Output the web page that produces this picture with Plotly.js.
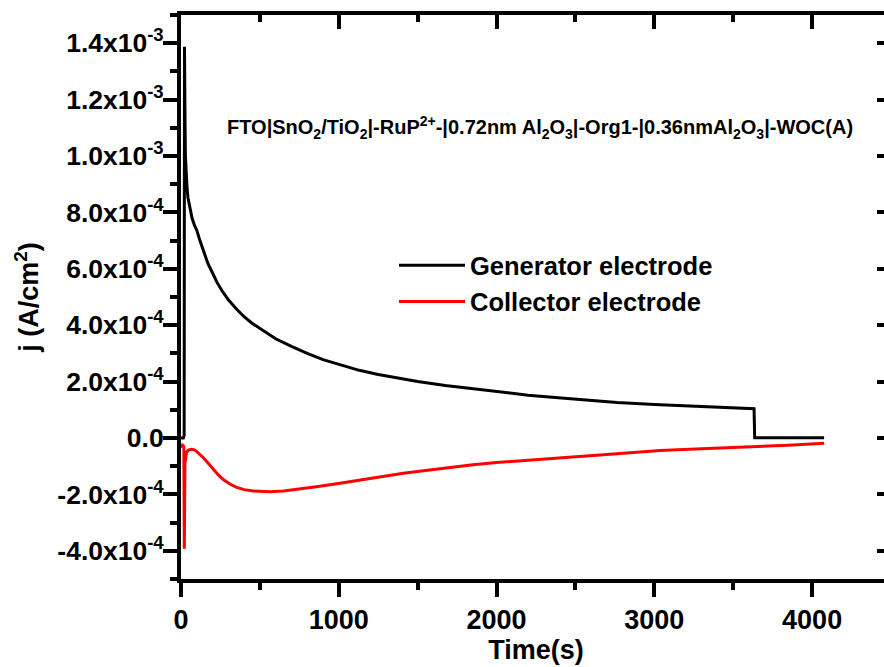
<!DOCTYPE html>
<html>
<head>
<meta charset="utf-8">
<script src="https://cdn.plot.ly/plotly-3.0.1.min.js"></script>
<style>
html, body { margin: 0; padding: 0; overflow: hidden; background: #fff; }
#chart { width: 900px; height: 667px; }
</style>
</head>
<body>
<div id="chart"></div>
<script>
// Generator electrode (black) — time in s, current density in A/cm^2
const genTime = [0, 15, 20, 22, 24, 26, 28, 32, 38, 44, 55, 70, 85, 101, 120, 140, 171, 200, 230, 260, 300, 350, 400, 450, 520, 600, 700, 800, 900, 1008, 1130, 1250, 1375, 1500, 1675, 1851, 2030, 2200, 2430, 2656, 2764, 3000, 3300, 3632, 3636, 4076];
const genJ = [0, 0, 0.1e-4, 13.87e-4, 12.5e-4, 11.0e-4, 10.0e-4, 9.4e-4, 8.9e-4, 8.53e-4, 8.15e-4, 7.8e-4, 7.55e-4, 7.35e-4, 7.0e-4, 6.7e-4, 6.18e-4, 5.85e-4, 5.5e-4, 5.22e-4, 4.9e-4, 4.58e-4, 4.3e-4, 4.07e-4, 3.8e-4, 3.52e-4, 3.25e-4, 3.0e-4, 2.78e-4, 2.59e-4, 2.4e-4, 2.25e-4, 2.12e-4, 2.0e-4, 1.86e-4, 1.74e-4, 1.62e-4, 1.52e-4, 1.41e-4, 1.31e-4, 1.26e-4, 1.19e-4, 1.11e-4, 1.04e-4, 0.01e-4, 0.01e-4];

// Collector electrode (red)
const colTime = [0, 4, 10, 18, 21, 25, 35, 50, 68, 85, 100, 120, 142, 170, 205, 235, 268, 310, 353, 400, 458, 510, 564, 650, 775, 880, 987, 1100, 1198, 1300, 1409, 1550, 1684, 1850, 2000, 2150, 2300, 2480, 2656, 2850, 3037, 3300, 3632, 3850, 4076];
const colJ = [-0.2e-4, -0.28e-4, -0.25e-4, -0.3e-4, -3.93e-4, -0.9e-4, -0.5e-4, -0.42e-4, -0.40e-4, -0.42e-4, -0.48e-4, -0.58e-4, -0.70e-4, -0.88e-4, -1.11e-4, -1.30e-4, -1.47e-4, -1.63e-4, -1.75e-4, -1.83e-4, -1.88e-4, -1.905e-4, -1.91e-4, -1.88e-4, -1.80e-4, -1.71e-4, -1.62e-4, -1.52e-4, -1.43e-4, -1.34e-4, -1.25e-4, -1.15e-4, -1.05e-4, -0.95e-4, -0.87e-4, -0.80e-4, -0.74e-4, -0.67e-4, -0.60e-4, -0.52e-4, -0.44e-4, -0.38e-4, -0.32e-4, -0.26e-4, -0.19e-4];

const seriesNames = ["Generator electrode", "Collector electrode"];

// Y tick labels
const yTickVals = [1.4e-3, 1.2e-3, 1.0e-3, 8.0e-4, 6.0e-4, 4.0e-4, 2.0e-4, 0, -2.0e-4, -4.0e-4];
const yTickText = ["1.4x10<sup>-3</sup>", "1.2x10<sup>-3</sup>", "1.0x10<sup>-3</sup>", "8.0x10<sup>-4</sup>", "6.0x10<sup>-4</sup>", "4.0x10<sup>-4</sup>", "2.0x10<sup>-4</sup>", "0.0", "-2.0x10<sup>-4</sup>", "-4.0x10<sup>-4</sup>"];

const annotationText = "FTO|SnO<sub>2</sub>/TiO<sub>2</sub>|-RuP<sup>2+</sup>-|0.72nm Al<sub>2</sub>O<sub>3</sub>|-Org1-|0.36nmAl<sub>2</sub>O<sub>3</sub>|-WOC(A)";

const FONT = "Liberation Sans, Arial, Helvetica, sans-serif";
const xRange = [0, 4500];
const yRange = [-5e-4, 1.5e-3];

const traces = [
  { x: genTime, y: genJ, type: "scatter", mode: "lines", name: seriesNames[0],
    line: { color: "#000000", width: 3, shape: "linear" } },
  { x: colTime, y: colJ, type: "scatter", mode: "lines", name: seriesNames[1],
    line: { color: "#ff0000", width: 3, shape: "linear" } },
  { x: [], y: [], xaxis: "x2", yaxis: "y2", type: "scatter", mode: "lines", showlegend: false, hoverinfo: "skip" }
];

const layout = {
  width: 900, height: 667,
  margin: { l: 181, r: 9, t: 15, b: 88 },
  paper_bgcolor: "#ffffff", plot_bgcolor: "#ffffff",
  font: { family: FONT, color: "#000000", weight: "bold" },
  showlegend: true,
  legend: {
    x: 0.300, y: 0.597, xanchor: "left", yanchor: "top",
    bgcolor: "rgba(0,0,0,0)", borderwidth: 0,
    font: { family: FONT, size: 25.5, weight: "bold", color: "#000" },
    itemwidth: 66, tracegroupgap: 0
  },
  xaxis: {
    range: xRange, showgrid: false, zeroline: false,
    showline: true, linecolor: "#000", linewidth: 4, mirror: true,
    ticks: "outside", ticklen: 14, tickwidth: 4, tickcolor: "#000",
    tick0: 0, dtick: 1000,
    minor: { ticks: "outside", ticklen: 7, tickwidth: 4, tickcolor: "#000", tick0: 0, dtick: 500 },
    tickfont: { family: FONT, size: 27, weight: "bold" },
    title: { text: "Time(s)", font: { family: FONT, size: 27, weight: "bold" }, standoff: 4 }
  },
  yaxis: {
    range: yRange, showgrid: false, zeroline: false,
    showline: true, linecolor: "#000", linewidth: 4, mirror: true,
    ticks: "outside", ticklen: 14, tickwidth: 4, tickcolor: "#000",
    tickmode: "array", tickvals: yTickVals, ticktext: yTickText,
    ticklabelstandoff: -6,
    minor: { ticks: "outside", ticklen: 7, tickwidth: 4, tickcolor: "#000", tickmode: "linear", tick0: 0, dtick: 1e-4 },
    tickfont: { family: FONT, size: 26.5, weight: "bold" },
    title: { text: "j (A/cm<sup>2</sup>)", font: { family: FONT, size: 27, weight: "bold" }, standoff: 12 }
  },
  xaxis2: {
    overlaying: "x", side: "top", anchor: "y2", range: xRange,
    showgrid: false, zeroline: false, showline: false, showticklabels: false,
    ticks: "inside", ticklen: 14, tickwidth: 4, tickcolor: "#000", tick0: 0, dtick: 1000,
    minor: { ticks: "inside", ticklen: 7, tickwidth: 4, tickcolor: "#000", tick0: 0, dtick: 500 }
  },
  yaxis2: {
    overlaying: "y", side: "right", anchor: "x2", range: yRange,
    showgrid: false, zeroline: false, showline: false, showticklabels: false,
    ticks: "inside", ticklen: 14, tickwidth: 4, tickcolor: "#000",
    tickmode: "array", tickvals: yTickVals,
    minor: { ticks: "inside", ticklen: 7, tickwidth: 4, tickcolor: "#000", tickmode: "linear", tick0: 0, dtick: 1e-4 }
  },
  annotations: [{
    text: annotationText, xref: "paper", yref: "paper",
    x: 0.506, y: 0.801, xanchor: "center", yanchor: "middle", showarrow: false,
    font: { family: FONT, size: 20, weight: "bold", color: "#000" }
  }]
};

Plotly.newPlot("chart", traces, layout, { displayModeBar: false, responsive: false });
</script>
</body>
</html>
